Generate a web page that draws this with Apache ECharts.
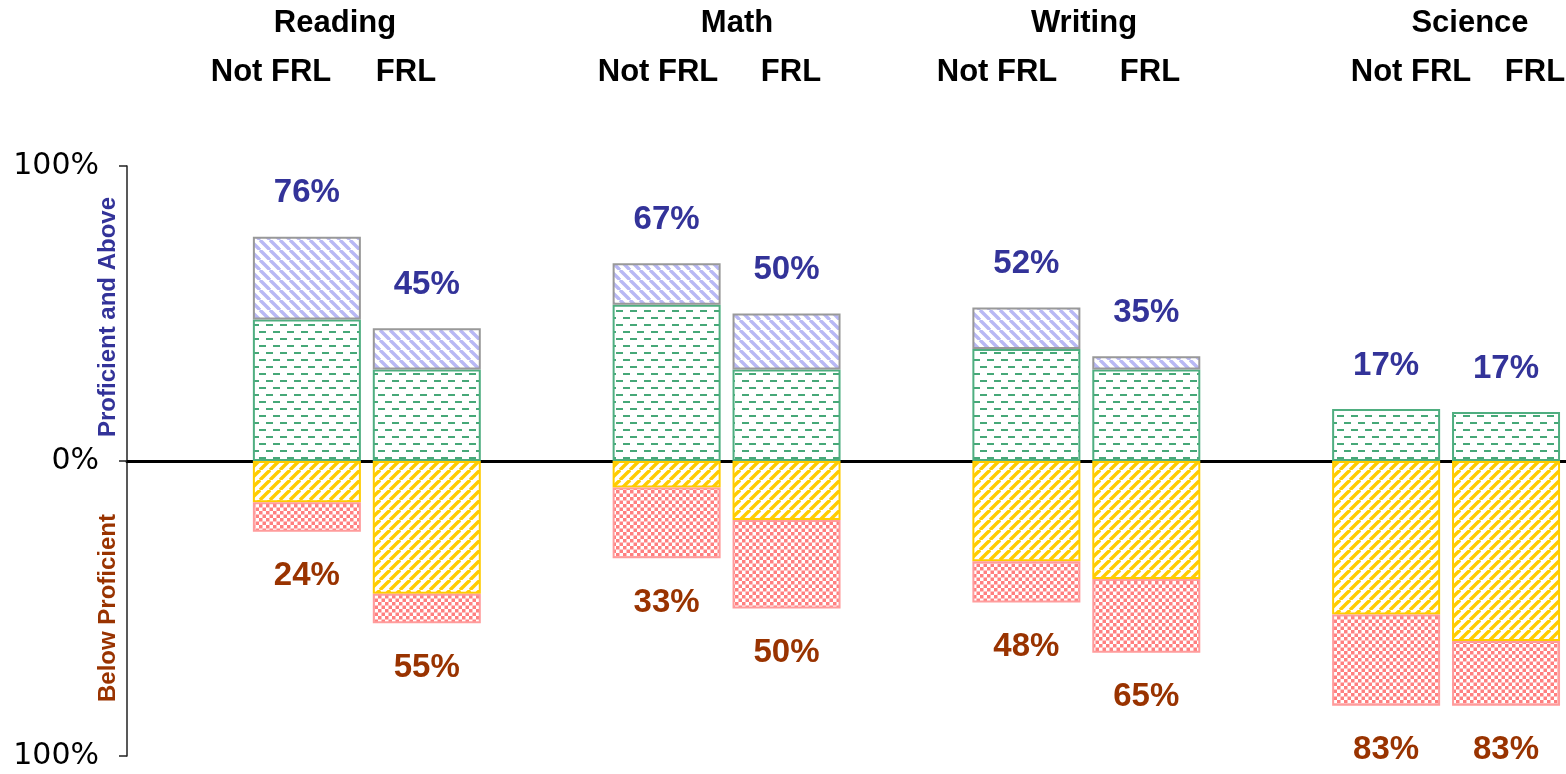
<!DOCTYPE html>
<html lang="en">
<head>
  <meta charset="utf-8" />
  <title>Proficiency by FRL status</title>
  <style>
    html, body { margin: 0; padding: 0; background: #fff; }
    #chart { width: 1566px; height: 774px; }
  </style>
</head>
<body>
  <div id="chart"></div>
  <script src="https://cdn.jsdelivr.net/npm/echarts@6/dist/echarts.min.js"></script>
  <script>
  "use strict";

  // blank slots keep the gaps between subjects
  var categories = ['', 'Reading Not FRL', 'Reading FRL', '', 'Math Not FRL', 'Math FRL', '',
    'Writing Not FRL', 'Writing FRL', '', 'Science Not FRL', 'Science FRL'];

  var proficient = ['-', 48, 31, '-', 53, 31, '-', 38, 31, '-', 17.6, 16.6];
  var advanced = ['-', 28, 14, '-', 14, 19, '-', 14, 4.5, '-', 0, 0];
  var partial = ['-', -14, -45, '-', -9, -20, '-', -34, -40, '-', -52, -61];
  var unsatisfactory = ['-', -10, -10, '-', -24, -30, '-', -14, -25, '-', -31, -22];

  var aboveLabels = ['', '76%', '45%', '', '67%', '50%', '', '52%', '35%', '', '17%', '17%'];
  var belowLabels = ['', '24%', '55%', '', '33%', '50%', '', '48%', '65%', '', '83%', '83%'];

  var subjects = ['Reading', 'Math', 'Writing', 'Science'];
  var groups = ['Not FRL', 'FRL'];

  // pattern tiles
  function tile(w, h, draw) {
    var c = document.createElement('canvas');
    c.width = w; c.height = h;
    var ctx = c.getContext('2d');
    ctx.fillStyle = '#fff';
    ctx.fillRect(0, 0, w, h);
    draw(ctx, w, h);
    return { image: c, repeat: 'repeat' };
  }

  function stripes(color, s, lw, back) {
    return tile(s, s, function (ctx) {
      ctx.strokeStyle = color;
      ctx.lineWidth = lw;
      for (var k = -s; k <= s; k += s) {
        ctx.beginPath();
        if (back) {
          ctx.moveTo(k, 0); ctx.lineTo(k + s, s);
        } else {
          ctx.moveTo(k, s); ctx.lineTo(k + s, 0);
        }
        ctx.stroke();
      }
    });
  }

  var bluePat = stripes('#b8b8f4', 10, 3.4, true);
  var yellowPat = stripes('#ffcc00', 10, 3.4, false);

  var greenPat = tile(14, 14, function (ctx) {
    ctx.fillStyle = '#46a878';
    ctx.fillRect(0, 2, 7, 2);
    ctx.fillRect(7, 9, 7, 2);
  });

  var pinkPat = tile(7, 7, function (ctx) {
    ctx.fillStyle = '#ff8080';
    ctx.fillRect(0, 0, 3.5, 3.5);
    ctx.fillRect(3.5, 3.5, 3.5, 3.5);
  });

  var myChart = echarts.init(document.getElementById('chart'));

  var labelFont = {
    fontFamily: 'Liberation Sans',
    fontWeight: 'bold',
    fontSize: 33
  };

  var option = {
    animation: false,
    backgroundColor: '#fff',
    grid: { left: 127, width: 1449.6, top: 166, bottom: 18, containLabel: false },
    xAxis: {
      type: 'category',
      data: categories,
      axisLine: { onZero: true, lineStyle: { color: '#000', width: 3 } },
      axisTick: { show: false },
      axisLabel: { show: false },
      splitLine: { show: false }
    },
    yAxis: {
      type: 'value',
      min: -100,
      max: 100,
      interval: 100,
      axisLine: { show: true, lineStyle: { color: '#222', width: 1.5 } },
      axisTick: { show: true, length: 8, lineStyle: { color: '#222', width: 1.5 } },
      splitLine: { show: false },
      axisLabel: {
        color: '#000',
        fontFamily: 'DejaVu Sans',
        fontSize: 30,
        margin: 28,
        formatter: function (v) { return Math.abs(v) + '%'; }
      }
    },
    series: [{
      name: 'Proficient',
      type: 'bar',
      stack: 'all',
      barWidth: 108,
      data: proficient,
      itemStyle: { color: greenPat, borderColor: '#4fae80', borderWidth: 2 }
    }, {
      name: 'Advanced',
      type: 'bar',
      stack: 'all',
      barWidth: 108,
      data: advanced.map(function (v) {
        return v === 0 ? { value: 0, itemStyle: { borderWidth: 0 } } : v;
      }),
      itemStyle: { color: bluePat, borderColor: '#999', borderWidth: 2 },
      label: Object.assign({
        show: true,
        position: 'top',
        distance: 27,
        color: '#333399',
        formatter: function (p) { return aboveLabels[p.dataIndex]; }
      }, labelFont)
    }, {
      name: 'Partially Proficient',
      type: 'bar',
      stack: 'all',
      barWidth: 108,
      data: partial,
      itemStyle: { color: yellowPat, borderColor: '#ffcc00', borderWidth: 2 }
    }, {
      name: 'Unsatisfactory',
      type: 'bar',
      stack: 'all',
      barWidth: 108,
      data: unsatisfactory,
      itemStyle: { color: pinkPat, borderColor: '#ff9c9c', borderWidth: 2 },
      label: Object.assign({
        show: true,
        position: 'bottom',
        distance: 28,
        color: '#993300',
        formatter: function (p) { return belowLabels[p.dataIndex]; }
      }, labelFont)
    }]
  };

  myChart.setOption(option);

  // headers and side titles
  var headFont = 'bold 31px "Liberation Sans"';
  var subjectX = [335, 737, 1084, 1470];
  var groupX = [[271, 406], [658, 791], [997, 1150], [1411, 1535]];
  var graphics = [];
  subjects.forEach(function (s, i) {
    graphics.push({
      type: 'text', x: subjectX[i], y: 23,
      style: { text: s, font: headFont, fill: '#000', textAlign: 'center', textVerticalAlign: 'middle' }
    });
    groups.forEach(function (g, j) {
      graphics.push({
        type: 'text', x: groupX[i][j], y: 72,
        style: { text: g, font: headFont, fill: '#000', textAlign: 'center', textVerticalAlign: 'middle' }
      });
    });
  });
  graphics.push({
    type: 'text', x: 108, y: 317, rotation: Math.PI / 2,
    style: { text: 'Proficient and Above', font: 'bold 24px "Liberation Sans"', fill: '#333399',
      textAlign: 'center', textVerticalAlign: 'middle' }
  });
  graphics.push({
    type: 'text', x: 108, y: 608, rotation: Math.PI / 2,
    style: { text: 'Below Proficient', font: 'bold 24px "Liberation Sans"', fill: '#993300',
      textAlign: 'center', textVerticalAlign: 'middle' }
  });

  myChart.setOption({ graphic: graphics });
  </script>
</body>
</html>
